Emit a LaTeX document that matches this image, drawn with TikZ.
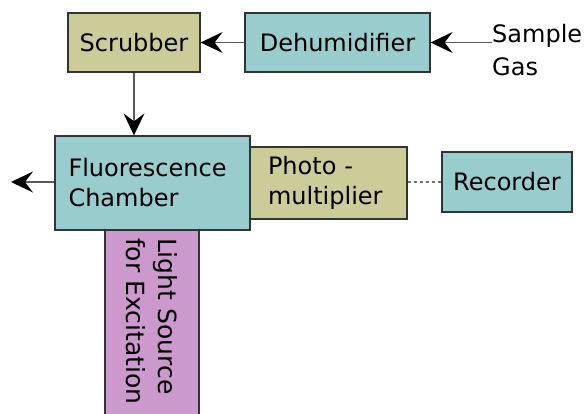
\documentclass[tikz,border=0pt]{standalone}
\usepackage{fontspec}
\setmainfont{DejaVu Sans}
\usetikzlibrary{arrows.meta}
\definecolor{tealfill}{HTML}{99CCCC}
\definecolor{olivefill}{HTML}{CCCC99}
\definecolor{pinkfill}{HTML}{CC99CC}
\tikzstyle{box}=[rectangle,draw=black!80,line width=1.3pt,text=black,inner sep=0pt,font=\fontsize{24}{30}\selectfont]
\tikzstyle{tealbox}=[box,fill=tealfill]
\tikzstyle{olivebox}=[box,fill=olivefill]
\tikzstyle{pinkbox}=[box,fill=pinkfill]
\tikzstyle{flow}=[->,draw=black!65,line width=1.3pt]
\tikzstyle{signal}=[dash pattern=on 3pt off 3pt,draw=black!55,line width=1.3pt]

\begin{document}
\begin{tikzpicture}[x=1pt,y=-1pt,>={Stealth[length=22pt,width=21pt,inset=8pt,black]}]
  \useasboundingbox (0,0) rectangle (587,413);

  \node[olivebox,minimum width=132pt,minimum height=59pt] (S) at (134,42.5) {Scrubber};
  \node[tealbox,minimum width=185pt,minimum height=59pt] (D) at (337.5,42.5) {Dehumidifier};
  \node[font=\fontsize{24}{33}\selectfont,align=left,anchor=west,inner sep=0pt] (G) at (492,50) {Sample\\Gas};
  \node[pinkbox,rotate=-90,minimum width=192pt,minimum height=94pt,text width=176pt,align=left,font=\fontsize{25}{32}\selectfont] (L) at (152,326) {Light Source\\for Excitation};
  \node[olivebox,minimum width=158pt,minimum height=72pt,text width=120pt,align=left] (P) at (328,183) {Photo -\\multiplier};
  \node[tealbox,minimum width=195pt,minimum height=94pt,text width=168pt,align=left] (F) at (152.5,183) {Fluorescence\\Chamber};
  \node[tealbox,minimum width=130pt,minimum height=60pt] (R) at (507,182) {Recorder};
  \coordinate (out) at (11,182);

  \draw[flow] (G.west |- D.east) -- (D.east);
  \draw[flow] (D) -- (S);
  \draw[flow] (S) -- (S |- F.north);
  \draw[flow] (F.west |- out) -- (out);
  \draw[signal] (P.east |- R.west) -- (R.west);

\end{tikzpicture}
\end{document}
